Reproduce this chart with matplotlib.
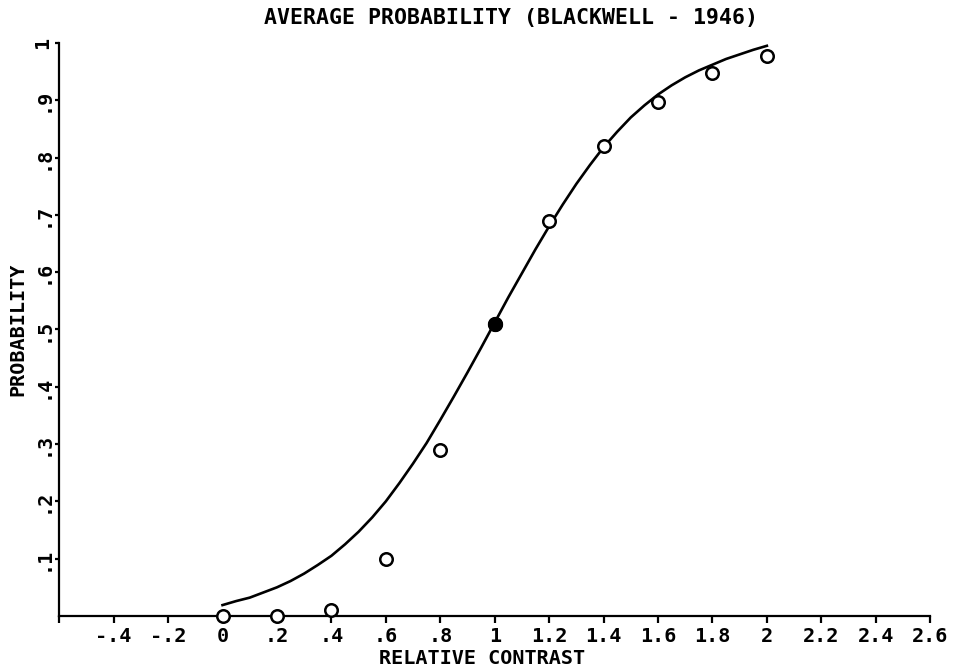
import numpy as np
import matplotlib
matplotlib.use('Agg')
import matplotlib.pyplot as plt

# measured points (open circles, the one at 1.0 is filled)
contrast = [0.0, 0.2, 0.4, 0.6, 0.8, 1.0, 1.2, 1.4, 1.6, 1.8, 2.0]
prob = [0.0, 0.0, 0.01, 0.10, 0.29, 0.51, 0.69, 0.82, 0.897, 0.948, 0.977]

# fitted curve
curve_x = [0.0, 0.05, 0.1, 0.15, 0.2, 0.25, 0.3, 0.35, 0.4, 0.45, 0.5,
           0.55, 0.6, 0.65, 0.7, 0.75, 0.8, 0.85, 0.9, 0.95, 1.0,
           1.05, 1.1, 1.15, 1.2, 1.25, 1.3, 1.35, 1.4, 1.45, 1.5,
           1.55, 1.6, 1.65, 1.7, 1.75, 1.8, 1.85, 1.9, 1.95, 2.0]
curve_y = [0.019, 0.026, 0.032, 0.041, 0.050, 0.061, 0.074, 0.089, 0.105, 0.125, 0.147,
           0.172, 0.200, 0.232, 0.266, 0.302, 0.342, 0.383, 0.425, 0.468, 0.512,
           0.556, 0.598, 0.640, 0.680, 0.718, 0.754, 0.787, 0.818, 0.845, 0.870,
           0.891, 0.910, 0.926, 0.940, 0.952, 0.962, 0.972, 0.980, 0.988, 0.995]

xticks = [-0.6, -0.4, -0.2, 0.0, 0.2, 0.4, 0.6, 0.8, 1.0, 1.2, 1.4, 1.6, 1.8, 2.0, 2.2, 2.4, 2.6]
xlabels = ['', '-.4', '-.2', '0', '.2', '.4', '.6', '.8', '1', '1.2', '1.4', '1.6', '1.8',
           '2', '2.2', '2.4', '2.6']
yticks = [0.1, 0.2, 0.3, 0.4, 0.5, 0.6, 0.7, 0.8, 0.9, 1.0]
ylabels = ['.1', '.2', '.3', '.4', '.5', '.6', '.7', '.8', '.9', '1']

plt.rcParams['font.family'] = ['DejaVu Sans Mono']
plt.rcParams['font.weight'] = 'bold'

fig = plt.figure(figsize=(9.55, 6.71), dpi=100)
ax = fig.add_axes([0.062, 0.082, 0.912, 0.854])

ax.plot(curve_x, curve_y, color='black', lw=1.9, clip_on=False, solid_joinstyle='round')
ax.plot(contrast, prob, 'o', ms=9, mfc='white', mec='black', mew=1.8, clip_on=False, zorder=3)
ax.plot([contrast[5]], [prob[5]], 'o', ms=10, mfc='black', mec='black', clip_on=False, zorder=4)

ax.set_xlim(-0.6, 2.6)
ax.set_ylim(0, 1)
for s in ['top', 'right']:
    ax.spines[s].set_visible(False)
for s in ['left', 'bottom']:
    ax.spines[s].set_linewidth(1.6)

ax.set_xticks(xticks)
ax.set_xticklabels(xlabels, fontsize=14.5, fontweight='bold')
ax.set_yticks(yticks)
ax.set_yticklabels(ylabels, fontsize=14.5, fontweight='bold', rotation=90, va='center')
ax.tick_params(axis='x', direction='out', length=5, width=1.6, pad=3)
ax.tick_params(axis='y', direction='out', length=3, width=1.6, pad=2)

ax.set_xlabel('RELATIVE CONTRAST', fontsize=14.5, fontweight='bold', labelpad=2)
ax.xaxis.label.set_x(0.486)
ax.set_ylabel('PROBABILITY', fontsize=14.5, fontweight='bold', labelpad=4)
fig.text(0.535, 0.973, 'AVERAGE PROBABILITY (BLACKWELL - 1946)', ha='center', va='center',
         fontsize=15.5, fontweight='bold')

fig.savefig('out.png', dpi=100)
